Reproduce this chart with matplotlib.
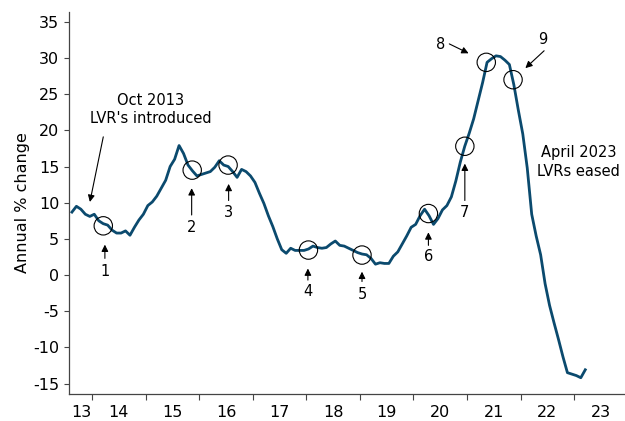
import numpy as np
import pandas as pd
import matplotlib
matplotlib.use("Agg")
import matplotlib.pyplot as plt

plt.rcParams['font.family'] = ['DejaVu Sans']
plt.rcParams['axes.unicode_minus'] = False

# monthly annual % change, Aug 2013 - Mar 2023
months = pd.date_range("2013-08-01", periods=116, freq="MS")
growth = [
    8.7, 9.5, 9.1, 8.4, 8.1, 8.4, 7.5, 7.1, 6.9, 6.2, 5.8, 5.8,
    6.1, 5.5, 6.6, 7.6, 8.4, 9.6, 10.1, 10.9, 12.0, 13.1, 15.0, 16.0,
    17.9, 16.8, 15.2, 14.4, 13.7, 13.9, 14.1, 14.3, 14.9, 15.8, 15.2, 15.0,
    14.3, 13.5, 14.6, 14.3, 13.7, 12.8, 11.3, 9.9, 8.2, 6.7, 5.0, 3.5,
    3.0, 3.7, 3.4, 3.4, 3.4, 3.6, 4.0, 3.8, 3.7, 3.8, 4.3, 4.7,
    4.1, 4.0, 3.7, 3.4, 3.1, 2.9, 2.8, 2.3, 1.5, 1.7, 1.6, 1.6,
    2.6, 3.2, 4.3, 5.4, 6.6, 7.0, 8.2, 9.1, 8.2, 7.0, 7.8, 9.0,
    9.6, 10.8, 13.0, 15.6, 17.8, 19.6, 21.6, 24.1, 26.6, 29.4, 29.9, 30.3,
    30.2, 29.7, 29.1, 26.3, 22.8, 19.5, 14.8, 8.4, 5.4, 2.8, -1.2, -4.2,
    -6.6, -8.9, -11.3, -13.5, -13.7, -13.9, -14.2, -13.1,
]

# circled events (decimal year, value)
event_x = [2014.21, 2015.87, 2016.54, 2018.04, 2019.04, 2020.28, 2020.96, 2021.36, 2021.86]
event_y = [6.8, 14.5, 15.2, 3.45, 2.76, 8.5, 17.8, 29.4, 27.0]
event_labels = ["1", "2", "3", "4", "5", "6", "7", "8", "9"]

years = [str(y)[2:] for y in range(2013, 2024)]

x = months.year + (months.month - 0.5) / 12

fig = plt.figure(figsize=(6.25, 4.21), dpi=100)
ax = fig.add_axes([0.1104, 0.0641, 0.8896, 0.9074])

ax.plot(x, growth, color="#0b4a6e", lw=2.0, solid_joinstyle="round")
ax.scatter(event_x, event_y, s=175, facecolors="none", edgecolors="black",
           linewidths=0.8, zorder=3)

arr = dict(arrowstyle="-|>", color="black", lw=0.8, mutation_scale=10,
           shrinkA=0, shrinkB=0)
fs = 10.5

# arrows below circles 1-7: (tip y, tail y, label y)
below = [(4.2, 2.3, 0.55), (12.0, 8.3, 6.5), (12.6, 10.3, 8.7),
         (0.9, -0.7, -2.3), (0.46, -0.9, -2.76), (5.9, 4.1, 2.5),
         (15.4, 10.3, 8.7)]
arrow_x = [2014.24, 2015.86, 2016.55, 2018.03, 2019.04, 2020.28, 2020.96]
for i, (tip, tail, lab) in enumerate(below):
    ax.annotate("", xy=(arrow_x[i], tip), xytext=(arrow_x[i], tail), arrowprops=arr)
    ax.text(arrow_x[i], lab, event_labels[i], ha="center", va="center", fontsize=fs)

ax.annotate("", xy=(2021.03, 30.65), xytext=(2020.67, 31.95), arrowprops=arr)
ax.text(2020.51, 31.8, event_labels[7], ha="center", va="center", fontsize=fs)
ax.annotate("", xy=(2022.09, 28.6), xytext=(2022.44, 31.0), arrowprops=arr)
ax.text(2022.42, 32.6, event_labels[8], ha="center", va="center", fontsize=fs)

ax.annotate("", xy=(2013.96, 10.1), xytext=(2014.21, 19.1), arrowprops=arr)
ax.text(2015.09, 22.9, "Oct 2013\nLVR's introduced", ha="center", va="center",
        fontsize=fs, linespacing=1.3)
ax.text(2023.09, 15.6, "April 2023\nLVRs eased", ha="center", va="center",
        fontsize=fs, linespacing=1.3)

ax.set_xlim(2013.57, 2023.95)
ax.set_ylim(-16.45, 36.36)
ax.set_yticks(range(-15, 40, 5))
ax.set_ylabel("Annual % change", fontsize=11.5, labelpad=2)

ax.set_xticks(range(2014, 2024))
ax.set_xticklabels([])
ax.set_xticks([2013.8] + [y + 0.5 for y in range(2014, 2024)], minor=True)
ax.set_xticklabels(years, minor=True)
ax.tick_params(axis="x", which="minor", length=0, labelsize=11.5, pad=8)
ax.tick_params(axis="x", which="major", length=4, width=0.8, color="#444444")
ax.tick_params(axis="y", length=3.5, width=0.8, labelsize=11.5, color="#444444")

for s in ["top", "right"]:
    ax.spines[s].set_visible(False)
for s in ["left", "bottom"]:
    ax.spines[s].set_color("#444444")
    ax.spines[s].set_linewidth(0.9)

fig.savefig("out.png", dpi=100)
